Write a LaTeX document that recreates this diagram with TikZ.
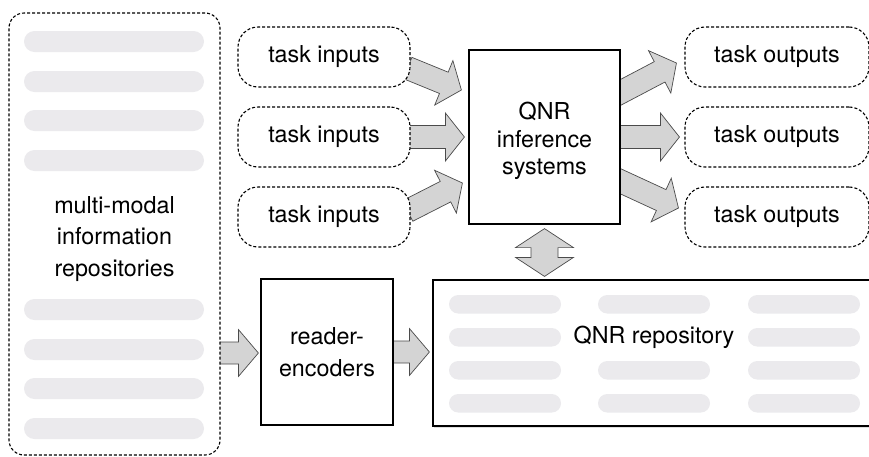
\documentclass[tikz,border=0pt]{standalone}
\usepackage{fontspec}
\setmainfont{TeX Gyre Heros}
\usetikzlibrary{calc,shadows}

\pgfdeclarelayer{background}
\pgfsetlayers{background,main}

\definecolor{barfill}{RGB}{235,234,237}
\definecolor{arrowfill}{RGB}{212,212,212}
\definecolor{arrowline}{RGB}{75,75,75}

% Block arrow from #1 to tip #2: shaft half-width #3, head half-width #4, head length #5
\newcommand{\blockarrow}[5]{%
  \coordinate (ba-h) at ($(#2)!#5!(#1)$);
  \draw[arrowbody]
    ($(#1)!#3!90:(#2)$) -- ($(ba-h)!#3!90:(#2)$) -- ($(ba-h)!#4!90:(#2)$)
    -- (#2)
    -- ($(ba-h)!#4!-90:(#2)$) -- ($(ba-h)!#3!-90:(#2)$) -- ($(#1)!#3!-90:(#2)$)
    -- cycle;}

\begin{document}
\begin{tikzpicture}[x=1pt,y=-1pt,
  every node/.style={font=\fontsize{23.3}{28}\selectfont, inner sep=0pt, align=center},
  dbox/.style={draw=black, line width=1.1pt, dash pattern=on 3pt off 2pt,
    rounded corners=20pt, fill=white},
  sbox/.style={draw=black, line width=1.2pt, fill=white},
  bar/.style={fill=barfill, rounded corners=9.5pt},
  arrowbody/.style={fill=arrowfill, draw=arrowline, line width=0.7pt, line join=miter}]

\useasboundingbox (0,0) rectangle (869,456);

% multi-modal information repositories
\node[dbox, rounded corners=15pt, minimum width=211pt, minimum height=442pt] (mmr) at (114.5,234) {};
\foreach \y in {31,71,110,150,299,339,378,418}
  \fill[bar, rounded corners=10.5pt] (24,\y) rectangle (204,\y+21);
\node[font=\fontsize{23.3}{31.7}\selectfont] (mmrtext) at (114.5,239) {multi-modal\\information\\repositories};

% task inputs
\node[dbox, minimum width=172pt, minimum height=60pt] (ti1) at (324,57)  {task inputs};
\node[dbox, minimum width=172pt, minimum height=60pt] (ti2) at (324,137) {task inputs};
\node[dbox, minimum width=172pt, minimum height=60pt] (ti3) at (324,217) {task inputs};

% task outputs
\node[dbox, minimum width=184pt, minimum height=60pt] (to1) at (777,57)  {task outputs};
\node[dbox, minimum width=184pt, minimum height=60pt] (to2) at (777,137) {task outputs};
\node[dbox, minimum width=184pt, minimum height=60pt] (to3) at (777,217) {task outputs};

% QNR inference systems
\node[sbox, minimum width=151pt, minimum height=174pt] (qnr) at (544.5,137) {};
\node[font=\fontsize{23.3}{27.5}\selectfont] (qnrtext) at (544.5,141) {QNR\\inference\\systems};

% reader-encoders
\node[sbox, minimum width=132pt, minimum height=146pt, font=\fontsize{23.3}{32}\selectfont] (reader) at (327,352) {reader-\\encoders};

% QNR repository
\node[sbox, minimum width=442pt, minimum height=146pt,
  drop shadow={shadow xshift=0.5pt, shadow yshift=-1.5pt, opacity=0.25}] (repo) at (654,353) {};
\foreach \x in {449,598,748}
  \foreach \y in {295,328,361,394}
    \fill[bar, rounded corners=9.25pt] (\x,\y) rectangle (\x+112,\y+18.5);
\fill[white] (592,326) rectangle (716,350);
\node (repotext) at (654,337.4) {QNR repository};

% connector end points
\coordinate (in1s) at ($(ti1.east)+(-3,11)$);
\coordinate (in1t) at ($(qnr.west)+(-7,-47)$);
\coordinate (in2s) at ($(ti2.east)+(-4,0)$);
\coordinate (in2t) at ($(qnr.west)+(-4,0)$);
\coordinate (in3s) at ($(ti3.east)+(-3,-6)$);
\coordinate (in3t) at ($(qnr.west)+(-6,46)$);
\coordinate (out1s) at ($(qnr.east)+(-5,-42)$);
\coordinate (out1t) at ($(to1.west)+(-8,6)$);
\coordinate (out2s) at ($(qnr.east)+(-5,0)$);
\coordinate (out2t) at ($(to2.west)+(-5,0)$);
\coordinate (out3s) at ($(qnr.east)+(-5,42)$);
\coordinate (out3t) at ($(to3.west)+(-6,-9)$);
\coordinate (rds) at ($(mmr.east |- reader.west)+(-5,1)$);
\coordinate (rdt) at ($(reader.west)+(-2,1)$);
\coordinate (rps) at ($(reader.east)+(-5,0)$);
\coordinate (rpt) at ($(repo.west |- reader.east)+(-3,0)$);
\coordinate (dbt) at ($(qnr.south)+(0,4)$);
\coordinate (dbb) at ($(qnr.south |- repo.north)+(0,-3)$);

\begin{pgfonlayer}{background}
  \blockarrow{in1s}{in1t}{11.5pt}{24pt}{19pt}
  \blockarrow{in2s}{in2t}{11.5pt}{24pt}{19pt}
  \blockarrow{in3s}{in3t}{11.5pt}{24pt}{19pt}
  \blockarrow{out1s}{out1t}{11.5pt}{24pt}{19pt}
  \blockarrow{out2s}{out2t}{11.5pt}{24pt}{19pt}
  \blockarrow{out3s}{out3t}{11.5pt}{24pt}{19pt}
  \blockarrow{rds}{rdt}{11pt}{23.5pt}{20pt}
  \blockarrow{rps}{rpt}{11pt}{23.5pt}{20pt}
\end{pgfonlayer}

% two-way link between inference systems and repository
\draw[arrowbody] (dbt) -- ($(dbt)+(29,19)$) -- ($(dbt)+(13.5,19)$) -- ($(dbb)+(13.5,-19)$)
  -- ($(dbb)+(29,-19)$) -- (dbb) -- ($(dbb)+(-29,-19)$) -- ($(dbb)+(-13.5,-19)$)
  -- ($(dbt)+(-13.5,19)$) -- ($(dbt)+(-29,19)$) -- cycle;

\end{tikzpicture}
\end{document}
